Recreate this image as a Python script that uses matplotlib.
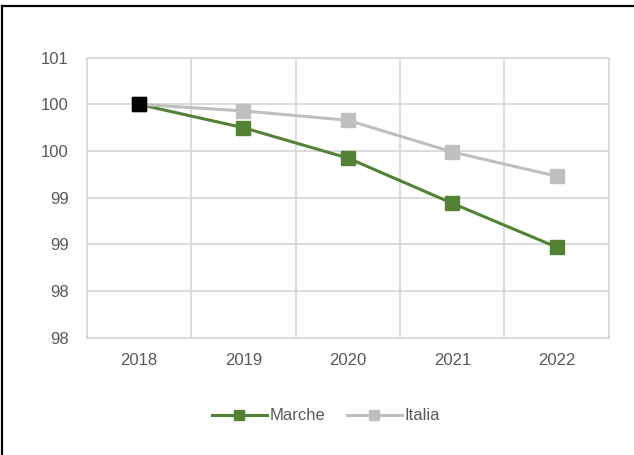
import math

import matplotlib
matplotlib.use("Agg")
import matplotlib.pyplot as plt
from matplotlib.lines import Line2D
from matplotlib.ticker import FixedLocator, FuncFormatter

# ---------------------------------------------------------------------------
# Data (index, 2018 = 100)
# ---------------------------------------------------------------------------
years = ["2018", "2019", "2020", "2021", "2022"]
marche = [100.0, 99.75, 99.425, 98.94, 98.47]
italia = [100.0, 99.93, 99.83, 99.49, 99.23]
y_ticks = [97.5, 98.0, 98.5, 99.0, 99.5, 100.0, 100.5]

GREEN = "#538135"
GRAY = "#BFBFBF"
GRID = "#D9D9D9"
TEXT = "#595959"

plt.rcParams["font.family"] = ["Liberation Sans", "DejaVu Sans"]

fig = plt.figure(figsize=(6.34, 4.55), dpi=100, facecolor="white")
ax = fig.add_axes([0.1367, 0.2578, 0.8238, 0.6154])

x = list(range(len(years)))
ax.plot(x, marche, color=GREEN, lw=2.2, marker="s", ms=9.5,
        mfc=GREEN, mec=GREEN, label="Marche", zorder=3)
ax.plot(x, italia, color=GRAY, lw=2.2, marker="s", ms=9.5,
        mfc=GRAY, mec=GRAY, label="Italia", zorder=3)
# first point highlighted in black
ax.plot(x[0], italia[0], ls="none", marker="s", ms=9.5,
        mfc="black", mec="black", zorder=4)

ax.set_xlim(-0.5, len(years) - 0.5)
ax.set_ylim(y_ticks[0], y_ticks[-1])

# category boundaries as vertical gridlines
ax.xaxis.set_major_locator(FixedLocator(x))
ax.set_xticklabels(years)
ax.xaxis.set_minor_locator(FixedLocator([i + 0.5 for i in x[:-1]]))
ax.grid(which="minor", axis="x", color=GRID, lw=1.3)
ax.yaxis.set_major_locator(FixedLocator(y_ticks))
ax.yaxis.set_major_formatter(FuncFormatter(lambda v, p: f"{int(math.floor(v + 0.5))}"))
ax.grid(which="major", axis="y", color=GRID, lw=1.3)
ax.set_axisbelow(True)

for spine in ax.spines.values():
    spine.set_color(GRID)
    spine.set_linewidth(1.3)

ax.tick_params(which="both", length=0, colors=TEXT, labelsize=12)
ax.tick_params(axis="y", pad=13)
ax.tick_params(axis="x", pad=11)

leg = fig.legend(handles=ax.get_lines()[:2], loc="center",
                 bbox_to_anchor=(0.514, 0.086), ncol=2, frameon=False,
                 fontsize=12, labelcolor=TEXT, handlelength=3.3,
                 handletextpad=0.15, columnspacing=1.3, markerscale=0.7)

# outer frame (only top and left visible)
fig.add_artist(Line2D([0.003, 1.0], [0.986, 0.986], color="black", lw=1.6,
                      transform=fig.transFigure))
fig.add_artist(Line2D([0.003, 0.003], [0.0, 0.986], color="black", lw=1.6,
                      transform=fig.transFigure))

fig.savefig("out.png", dpi=100, facecolor="white")
